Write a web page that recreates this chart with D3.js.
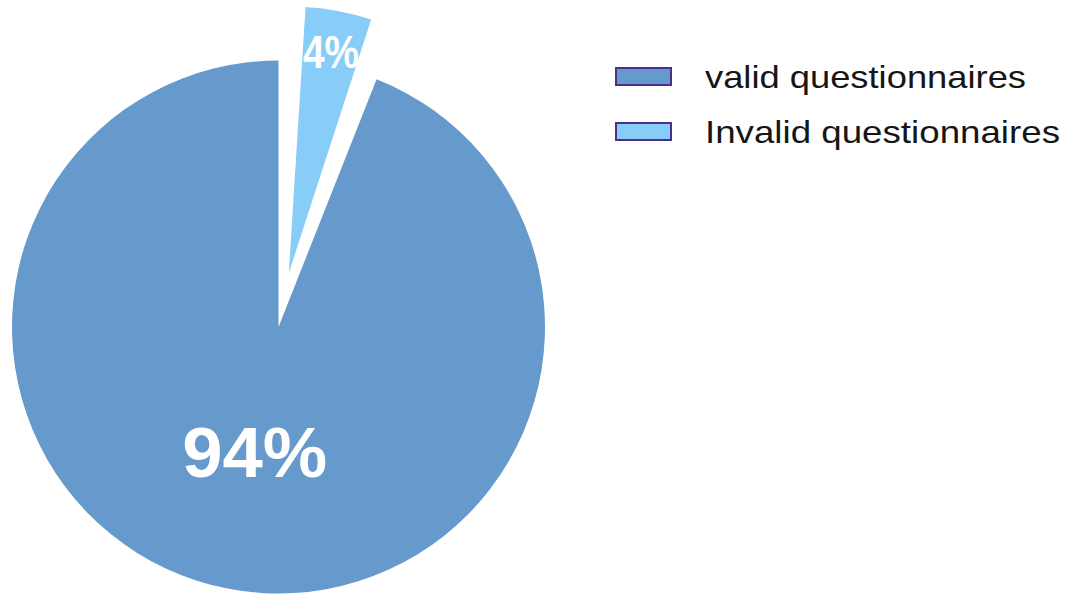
<!DOCTYPE html>
<html>
<head>
<meta charset="utf-8">
<script src="https://cdn.jsdelivr.net/npm/d3@7"></script>
<style>
  html, body { margin: 0; padding: 0; background: #ffffff; }
  svg { display: block; }
</style>
</head>
<body>
<svg id="chart" width="1074" height="595"></svg>
<script>
// Questionnaire returns, as percentages of all questionnaires handed out
const categories = ["valid questionnaires", "Invalid questionnaires"];
const percents = [94, 4];
const sliceColors = ["#6699cc", "#87cdf8"];
const legendBorder = "#4b2f8e";

const svg = d3.select("#chart");
const cx = 278.5, cy = 327, R = 266.5;

// Percent of the full circle -> angle (clockwise from 12 o'clock)
const angle = d3.scaleLinear().domain([0, 100]).range([0, 2 * Math.PI]);

// The valid share closes the circle at 12 o'clock; the share that the two
// rounded figures leave unaccounted is split evenly around the invalid slice.
const rest = 100 - d3.sum(percents);
const slices = categories.map((name, i) => {
  const p = percents[i];
  const span = i === 0 ? [100 - p, 100] : [rest / 2, rest / 2 + p];
  return {
    name, value: p, color: sliceColors[i],
    startAngle: angle(span[0]), endAngle: angle(span[1]),
    explode: i === 0 ? 0 : 55,
    labelR: i === 0 ? 0.475 : 0.845,
    fontSize: i === 0 ? 71 : 46,
    textLen: i === 0 ? 145 : 56
  };
});

const arc = d3.arc().innerRadius(0).outerRadius(R);
const mid = d => (d.startAngle + d.endAngle) / 2;

const g = svg.append("g").attr("transform", `translate(${cx},${cy})`);

const slice = g.selectAll("g.slice")
  .data(slices)
  .join("g")
  .attr("class", "slice")
  .attr("transform", d =>
    `translate(${d.explode * Math.sin(mid(d))},${-d.explode * Math.cos(mid(d))})`);

slice.append("path")
  .attr("d", arc)
  .attr("fill", d => d.color);

slice.append("text")
  .attr("x", d => d.labelR * R * Math.sin(mid(d)))
  .attr("y", d => -d.labelR * R * Math.cos(mid(d)))
  .attr("dy", "0.36em")
  .attr("text-anchor", "middle")
  .attr("font-family", "'Liberation Sans', Arial, sans-serif")
  .attr("font-weight", "bold")
  .attr("font-size", d => d.fontSize)
  .attr("textLength", d => d.textLen)
  .attr("lengthAdjust", "spacingAndGlyphs")
  .attr("fill", "#ffffff")
  .text(d => d.value + "%");

// Legend
const legendY = d3.scaleBand().domain(categories).range([60, 170]);
const legendTextLen = [321, 355];

const legend = svg.append("g").selectAll("g")
  .data(slices)
  .join("g")
  .attr("transform", d => `translate(615,${legendY(d.name)})`);

legend.append("rect")
  .attr("x", 1).attr("y", 8)
  .attr("width", 55).attr("height", 17)
  .attr("fill", d => d.color)
  .attr("stroke", legendBorder)
  .attr("stroke-width", 2);

legend.append("text")
  .attr("x", 90)
  .attr("y", 28)
  .attr("font-family", "'Liberation Sans', Arial, sans-serif")
  .attr("font-size", 32)
  .attr("fill", "#161616")
  .attr("textLength", (d, i) => legendTextLen[i])
  .attr("lengthAdjust", "spacingAndGlyphs")
  .text(d => d.name);
</script>
</body>
</html>
